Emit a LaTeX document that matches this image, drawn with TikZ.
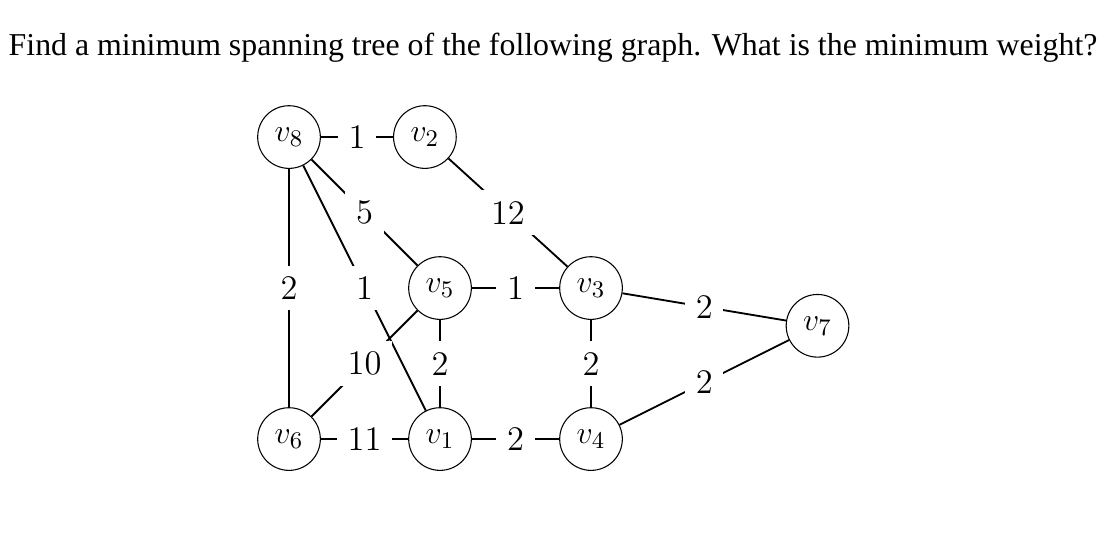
\documentclass[tikz,border=0pt]{standalone}
\usepackage{fontspec}
\newfontfamily\questionfont{Liberation Serif}
\usetikzlibrary{positioning}
\tikzset{
  vertex/.style={circle,draw,line width=.4pt,minimum size=0.83cm,inner sep=0pt,font=\fontsize{13}{15}\selectfont},
  graph edge/.style={line width=.7pt},
  weight/.style={fill=white,inner sep=4pt,font=\fontsize{13}{15}\selectfont}
}
\begin{document}
\begin{tikzpicture}[line cap=butt,line join=round]
  \useasboundingbox (-3.828,-5.232) rectangle (10.874,1.815);
  \node[font=\questionfont\fontsize{12}{14}\selectfont] (question) at (3.497,1.18)
    {Find a minimum spanning tree of the following graph. What is the minimum weight?};

  \node[vertex] (v8) at (0, 0)    {$v_8$};
  \node[vertex] (v2) at (1.8,0)   {$v_2$};
  \node[vertex] (v5) at (2,-2)    {$v_5$};
  \node[vertex] (v3) at (4,-2)    {$v_3$};
  \node[vertex] (v7) at (7,-2.5)  {$v_7$};
  \node[vertex] (v6) at (0,-4)    {$v_6$};
  \node[vertex] (v1) at (2,-4)    {$v_1$};
  \node[vertex] (v4) at (4,-4)    {$v_4$};

  % weighted edges
  \draw[graph edge] (v8) -- node[weight] (w82) {1}  (v2);
  \draw[graph edge] (v8) -- node[weight] (w86) {2}  (v6);
  \draw[graph edge] (v8) -- node[weight] (w85) {5}  (v5);
  \draw[graph edge] (v8) -- node[weight] (w81) {1}  (v1);
  \draw[graph edge] (v2) -- node[weight] (w23) {12} (v3);
  \draw[graph edge] (v5) -- node[weight] (w53) {1}  (v3);
  \draw[graph edge] (v6) -- node[weight] (w65) {10} (v5);
  \draw[graph edge] (v5) -- node[weight] (w51) {2}  (v1);
  \draw[graph edge] (v3) -- node[weight] (w34) {2}  (v4);
  \draw[graph edge] (v3) -- node[weight] (w37) {2}  (v7);
  \draw[graph edge] (v4) -- node[weight] (w47) {2}  (v7);
  \draw[graph edge] (v6) -- node[weight] (w61) {11} (v1);
  \draw[graph edge] (v1) -- node[weight] (w14) {2}  (v4);
\end{tikzpicture}
\end{document}
